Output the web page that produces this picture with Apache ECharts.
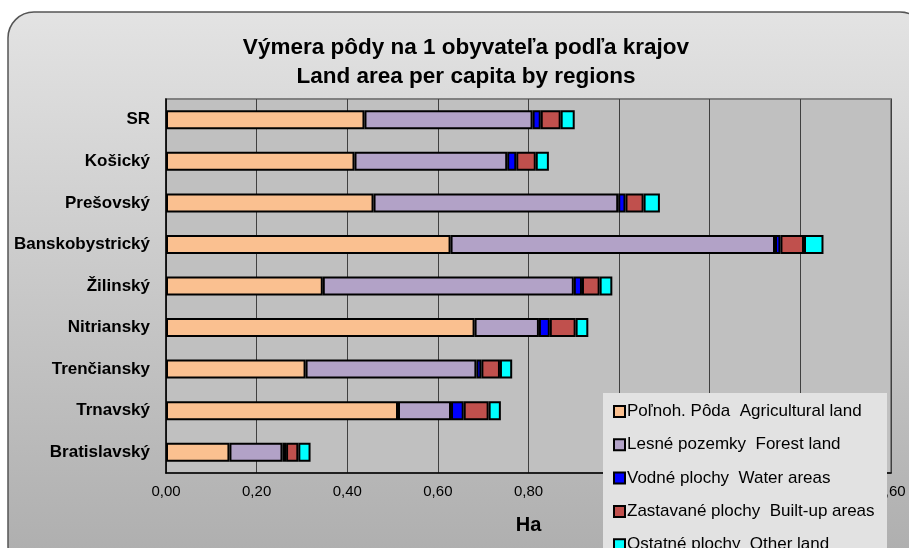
<!DOCTYPE html>
<html><head><meta charset="utf-8">
<script src="https://cdn.jsdelivr.net/npm/echarts@6/dist/echarts.min.js"></script>
<style>html,body{margin:0;padding:0;background:#fff}#c{width:909px;height:548px}</style>
</head><body><div id="c"></div>
<script>
const categories = ['SR','Košický','Prešovský','Banskobystrický','Žilinský','Nitriansky','Trenčiansky','Trnavský','Bratislavský'];
const seriesNames = ['Poľnoh. Pôda  Agricultural land','Lesné pozemky  Forest land','Vodné plochy  Water areas','Zastavané plochy  Built-up areas','Ostatné plochy  Other land'];
const agricultural = [0.438,0.416,0.458,0.628,0.346,0.681,0.308,0.512,0.140];
const forest       = [0.371,0.337,0.540,0.716,0.554,0.142,0.377,0.117,0.117];
const water        = [0.018,0.020,0.016,0.012,0.018,0.024,0.011,0.028,0.008];
const builtUp      = [0.044,0.043,0.040,0.052,0.039,0.057,0.041,0.055,0.027];
const other        = [0.031,0.029,0.036,0.043,0.028,0.028,0.027,0.027,0.027];
const xTicks = {min:0, max:1.6, interval:0.2};

const colors = ['#fac090','#b2a2c7','#0000ff','#c0504d','#00ffff'];
const values = [agricultural, forest, water, builtUp, other];
const font = '"Liberation Sans", Arial, sans-serif';

const chart = echarts.init(document.getElementById('c'));
chart.setOption({
  animation:false,
  textStyle:{fontFamily:font},
  graphic:[
    {type:'rect', z:-10, silent:true, shape:{x:8,y:12,width:918,height:560,r:26},
     style:{fill:new echarts.graphic.LinearGradient(0,0,0,1,[{offset:0,color:'#e3e3e3'},{offset:1,color:'#adadad'}]), stroke:'#555', lineWidth:1.5}},
    {type:'rect', z:5, silent:true, shape:{x:603,y:393,width:284,height:170},
     style:{fill:'#e2e2e2'}}
  ],
  title:{
    text:'Výmera pôdy na 1 obyvateľa podľa krajov\nLand area per capita by regions',
    left:461, top:28, textAlign:'center',
    textStyle:{fontFamily:font, fontSize:22.5, fontWeight:'bold', color:'#000', lineHeight:29}
  },
  legend:{
    orient:'vertical', left:613, top:403, z:6, padding:0, height:200,
    itemWidth:11, itemHeight:11, itemGap:16.3,
    icon:'rect',
    textStyle:{fontFamily:font, fontSize:17, color:'#000', padding:[0,0,0,-3]},
    itemStyle:{borderColor:'#000', borderWidth:2},
    data:seriesNames
  },
  grid:{left:166, right:18, top:99, bottom:75, show:true, backgroundColor:'#c0c0c0', borderColor:'#808080', borderWidth:2},
  xAxis:{
    type:'value', min:xTicks.min, max:xTicks.max, interval:xTicks.interval,
    axisLine:{show:true, lineStyle:{color:'#000', width:1.5}},
    axisTick:{show:false},
    splitLine:{show:true, lineStyle:{color:'#404040', width:1}},
    axisLabel:{fontFamily:font, fontSize:15, color:'#000', margin:11,
      formatter:v=>v.toFixed(2).replace('.',',')},
    name:'Ha', nameLocation:'middle', nameGap:42,
    nameTextStyle:{fontFamily:font, fontSize:20, fontWeight:'bold', color:'#000'}
  },
  yAxis:{
    type:'category', data:categories, inverse:true,
    axisLine:{show:true, lineStyle:{color:'#000', width:1.5}},
    axisTick:{show:false},
    axisLabel:{fontFamily:font, fontSize:17, fontWeight:'bold', color:'#000', margin:16}
  },
  series: seriesNames.map((n,i)=>({
    name:n, type:'bar', stack:'total', barWidth:19,
    itemStyle:{color:colors[i], borderColor:'#000', borderWidth:2},
    data:values[i]
  }))
});
</script></body></html>
